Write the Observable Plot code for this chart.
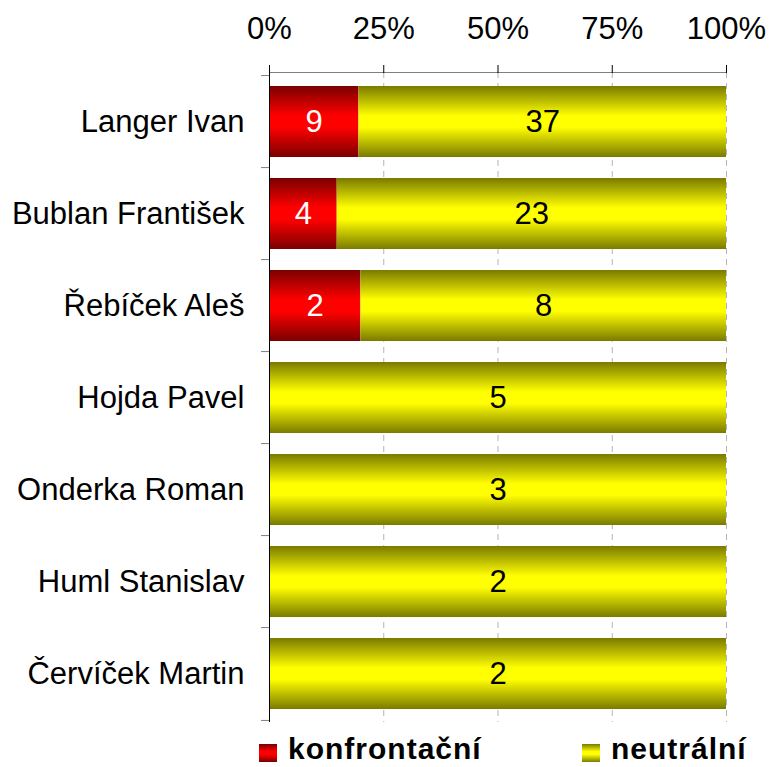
<!DOCTYPE html>
<html><head><meta charset="utf-8">
<script src="https://cdn.jsdelivr.net/npm/d3@7"></script>
<script src="https://cdn.jsdelivr.net/npm/@observablehq/plot@0.6"></script>
<style>
body{margin:0;background:#fff;font-family:"Liberation Sans",Arial,sans-serif}
#wrap{position:relative;width:771px;height:767px;overflow:hidden}
#wrap svg{display:block}
.sw{position:absolute;width:18px;height:18px;top:744px}
.lt{position:absolute;top:732px;font-weight:bold;font-size:30px;letter-spacing:1px;line-height:34px;height:34px;color:#000;white-space:nowrap}
</style></head>
<body><div id="wrap"></div>
<script>
const names = ["Langer Ivan","Bublan František","Řebíček Aleš","Hojda Pavel","Onderka Roman","Huml Stanislav","Červíček Martin"];
const konfrontacni = [9,4,2,0,0,0,0];
const neutralni = [37,23,8,5,3,2,2];
const types = ["konfrontační","neutrální"];
const tickValues = [0,0.25,0.5,0.75,1];
const tickLabels = ["0%","25%","50%","75%","100%"];

const rows = names.flatMap((n,i)=>[
  {name:n,type:types[0],value:konfrontacni[i]},
  {name:n,type:types[1],value:neutralni[i]}
]);

const H = 728, mt = 72, mb = 6;
const step = (H - mt - mb) / names.length;

const chart = Plot.plot({
  width: 771, height: H,
  marginTop: mt, marginBottom: mb, marginLeft: 269, marginRight: 45,
  style: {fontFamily: "'Liberation Sans', Arial, sans-serif", fontSize: "31px", background: "#fff", color: "#000"},
  x: {domain: [0,1]},
  y: {domain: names, paddingInner: 0.23, paddingOuter: 0.115},
  color: {type: "ordinal", domain: types, range: ["url(#gRed)","url(#gYel)"]},
  marks: [
    Plot.gridX(tickValues.slice(1), {stroke: "#b4b4b4", strokeOpacity: 1, strokeDasharray: "6,5"}),
    Plot.barX(rows, Plot.stackX({x: "value", y: "name", fill: "type", offset: "normalize"})),
    Plot.text(rows, Plot.stackX({x: "value", y: "name", offset: "normalize",
      text: d => d.type === types[0] && d.value > 0 ? String(d.value) : null, fill: "white", fontSize: 31})),
    Plot.text(rows, Plot.stackX({x: "value", y: "name", offset: "normalize",
      text: d => d.type === types[1] && d.value > 0 ? String(d.value) : null, fill: "black", fontSize: 31})),
    Plot.frame({anchor: "top", stroke: "#808080"}),
    Plot.axisX({anchor: "top", ticks: tickValues, tickFormat: (d,i) => tickLabels[tickValues.indexOf(d)],
      tickSize: 8, tickPadding: 26, fontSize: 31, stroke: "#000", label: null}),
    Plot.axisY({anchor: "left", tickSize: 0, tickPadding: 25, fontSize: 31, label: null}),
    Plot.axisY({anchor: "left", text: null, tickSize: 8, dy: -step/2, stroke: "#808080", label: null}),
    Plot.axisY({anchor: "left", ticks: names.slice(-1), text: null, tickSize: 8, dy: step/2, stroke: "#808080", label: null}),
    Plot.ruleX([0], {stroke: "#000"})
  ]
});

const ns = "http://www.w3.org/2000/svg";
const defs = document.createElementNS(ns, "defs");
function grad(id, dark, bright){
  const g = document.createElementNS(ns, "linearGradient");
  g.setAttribute("id", id); g.setAttribute("x1","0"); g.setAttribute("y1","0"); g.setAttribute("x2","0"); g.setAttribute("y2","1");
  [[0,dark],[0.42,bright],[0.58,bright],[1,dark]].forEach(([o,c])=>{
    const s = document.createElementNS(ns, "stop");
    s.setAttribute("offset", o); s.setAttribute("stop-color", c); g.appendChild(s);
  });
  defs.appendChild(g);
}
grad("gRed", "#7a0000", "#ff0000");
grad("gYel", "#7a7a00", "#ffff00");
chart.insertBefore(defs, chart.firstChild);

const wrap = document.getElementById("wrap");
wrap.appendChild(chart);

const legendColors = [["#7a0000","#ff0000"],["#7a7a00","#ffff00"]];
const legendX = [259, 582];
types.forEach((t,i)=>{
  const sw = document.createElement("div");
  sw.className = "sw";
  sw.style.left = legendX[i] + "px";
  sw.style.background = `linear-gradient(to bottom, ${legendColors[i][0]}, ${legendColors[i][1]} 42%, ${legendColors[i][1]} 58%, ${legendColors[i][0]})`;
  wrap.appendChild(sw);
  const lt = document.createElement("div");
  lt.className = "lt";
  lt.style.left = (legendX[i] + 29) + "px";
  lt.textContent = t;
  wrap.appendChild(lt);
});
</script>
</body></html>
